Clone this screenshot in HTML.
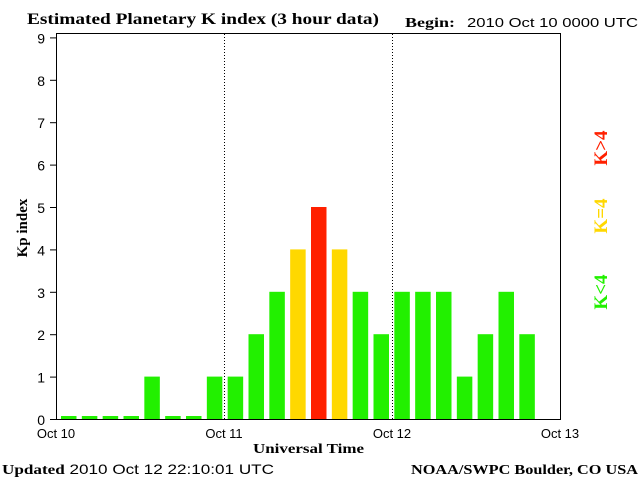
<!DOCTYPE html>
<html><head><meta charset="utf-8"><style>
body{margin:0;background:#fff;width:640px;height:480px;overflow:hidden}
svg{display:block}
.s{font-family:"Liberation Serif",serif;font-weight:bold}
.n{font-family:"Liberation Sans",sans-serif}
</style></head><body>
<svg id="c" width="640" height="480">
<text class="s" x="27" y="24" font-size="16" textLength="352" lengthAdjust="spacingAndGlyphs">Estimated Planetary K index (3 hour data)</text>
<text class="s" x="405" y="27" font-size="14" textLength="50" lengthAdjust="spacingAndGlyphs">Begin:</text>
<text class="n" x="467" y="27" font-size="13" textLength="171" lengthAdjust="spacingAndGlyphs">2010 Oct 10 0000 UTC</text>
<rect x="56.5" y="33.5" width="504" height="386" fill="none" stroke="#000"/>
<g id="bars"></g>
<g id="axes"></g>
<text class="s" x="27" y="228" font-size="15" transform="rotate(-90 27 228)" text-anchor="middle">Kp index</text>
<text class="s" x="253" y="453" font-size="14" textLength="111" lengthAdjust="spacingAndGlyphs">Universal Time</text>
<text class="s" x="607" y="148" font-size="19" fill="#ff2000" transform="rotate(-90 607 148)" text-anchor="middle">K&gt;4</text>
<text class="s" x="607" y="216" font-size="19" fill="#ffd800" transform="rotate(-90 607 216)" text-anchor="middle">K=4</text>
<text class="s" x="607" y="292" font-size="19" fill="#22f000" transform="rotate(-90 607 292)" text-anchor="middle">K&lt;4</text>
<text class="n" x="2" y="474" font-size="14" textLength="272" lengthAdjust="spacingAndGlyphs"><tspan class="s">Updated</tspan> 2010 Oct 12 22:10:01 UTC</text>
<text class="s" x="411" y="474" font-size="14" textLength="227" lengthAdjust="spacingAndGlyphs">NOAA/SWPC Boulder, CO USA</text>
</svg>
<script>
const kpValues=[0,0,0,0,1,0,0,1, 1,2,3,4,5,4,3,2, 3,3,3,1,2,3,2];
const yTicks=[0,1,2,3,4,5,6,7,8,9];
const dayLabels=["Oct 10","Oct 11","Oct 12","Oct 13"];
const NS="http://www.w3.org/2000/svg";
const x0=56,x1=560,yb=419,unit=42.4;
const xs=d=>x0+(x1-x0)*d/3;
const xb=i=>x0+5+i*250/12;
const ys=v=>yb-unit*v;
const bars=document.getElementById('bars'),axes=document.getElementById('axes');
function mk(t,a,p){const e=document.createElementNS(NS,t);for(const k in a)e.setAttribute(k,a[k]);p.appendChild(e);return e;}
kpValues.forEach((v,i)=>{
 const h=Math.max(yb-ys(v),3);
 const col=v>4?'#ff2000':v==4?'#ffd800':'#22f000';
 const r=mk('rect',{x:xb(i),y:yb-h,width:15.5,height:h,fill:col},bars);
 
 
});
yTicks.forEach(t=>{
 const l=mk('line',{x1:50,x2:56,y1:ys(t)+0.5,y2:ys(t)+0.5,stroke:'#000'},axes);
 
 
 const tx=mk('text',{x:45,y:ys(t)+6,'font-size':14,'text-anchor':'end',class:'n'},axes);
 tx.textContent=t;
 
 
});
dayLabels.forEach((d,i)=>{
 const tx=mk('text',{x:xs(i),y:438,'font-size':13,'text-anchor':'middle',class:'n'},axes);
 tx.textContent=d;
 
 
 if(i==1||i==2){
  const l=mk('line',{x1:xs(i)+0.5,x2:xs(i)+0.5,y1:34,y2:419,stroke:'#000','stroke-dasharray':'1 2'},axes);
  
  
 }
});
</script>
</body></html>
